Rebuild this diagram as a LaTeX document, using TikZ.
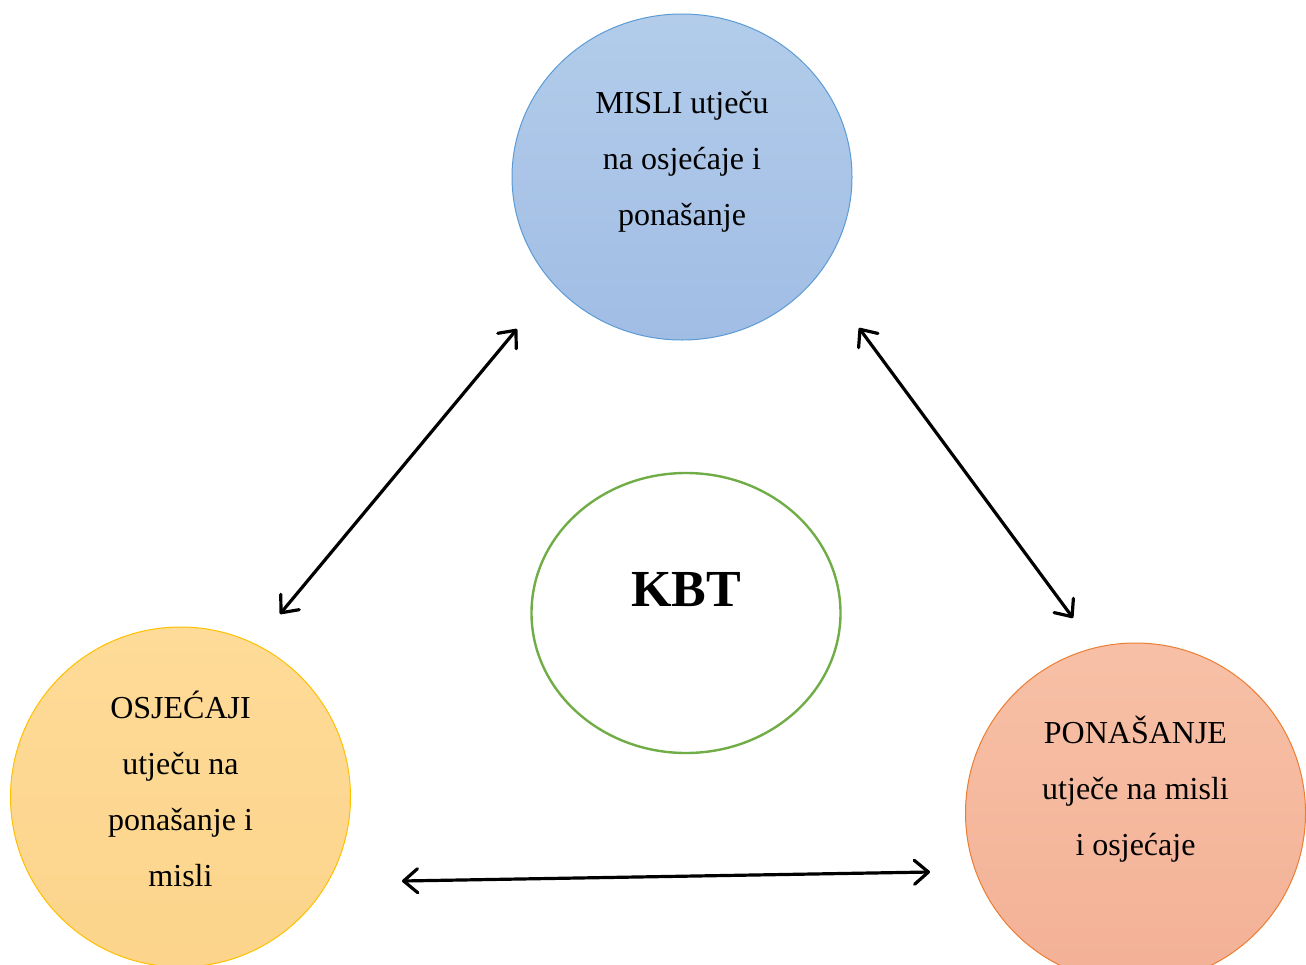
\documentclass[tikz,border=0pt]{standalone}
\usepackage{fontspec}
\setmainfont{Liberation Serif}
\usetikzlibrary{shapes.geometric,arrows.meta}
\definecolor{misliRub}{HTML}{5B9BD5}
\definecolor{misliGore}{HTML}{B2CCEA}
\definecolor{misliDolje}{HTML}{A1BDE4}
\definecolor{osjRub}{HTML}{FFC000}
\definecolor{osjGore}{HTML}{FEDB98}
\definecolor{osjDolje}{HTML}{FCD48B}
\definecolor{ponRub}{HTML}{ED7D31}
\definecolor{ponGore}{HTML}{F7C0A6}
\definecolor{ponDolje}{HTML}{F3B196}
\definecolor{kbtRub}{HTML}{70AD47}

\begin{document}
\begin{tikzpicture}[x=0.5pt,y=-0.5pt,
	krug/.style={draw, ellipse, line width=0.5pt, inner sep=0pt, minimum width=170pt, minimum height=170pt},
	tekst/.style={align=center, font=\fontsize{16}{28}\selectfont},
	veza/.style={line width=1.6pt, {Straight Barb[round,length=7pt,width=12pt]}-{Straight Barb[round,length=7pt,width=12pt]}}]
			
			\useasboundingbox (0,0) rectangle (1306,964);
			
			\node[krug, draw=misliRub, top color=misliGore, bottom color=misliDolje, minimum height=163pt] (misli) at (682,177) {};
			\node[krug, draw=osjRub, top color=osjGore, bottom color=osjDolje] (osj) at (180.5,797) {};
			\node[krug, draw=ponRub, top color=ponGore, bottom color=ponDolje] (pon) at (1135.5,813) {};
			\node[krug, draw=kbtRub, line width=1.2pt, minimum width=154.5pt, minimum height=140pt] (kbt) at (686,613) {};
			
			\node[tekst] (mislitxt) at ([yshift=7.5pt]misli.center) {MISLI utječu\\na osjećaje i\\ponašanje};
			\node[tekst] (osjtxt) at ([yshift=4pt]osj.center) {OSJEĆAJI\\utječu na\\ponašanje i\\misli};
			\node[tekst] (pontxt) at ([yshift=12pt]pon.center) {PONAŠANJE\\utječe na misli\\i osjećaje};
			\node[font=\fontsize{26}{30}\bfseries\selectfont] (kbttxt) at ([yshift=11.5pt]kbt.center) {KBT};
			
			\coordinate (m1) at (517,329);
			\coordinate (o1) at (280,614);
			\coordinate (m2) at (859,328);
			\coordinate (p1) at (1073,618);
			\coordinate (o2) at (402,881);
			\coordinate (p2) at (930,872);
			
			\draw[veza] (m1) -- (o1);
			\draw[veza] (m2) -- (p1);
			\draw[veza] (o2) -- (p2);
			
\end{tikzpicture}
\end{document}
